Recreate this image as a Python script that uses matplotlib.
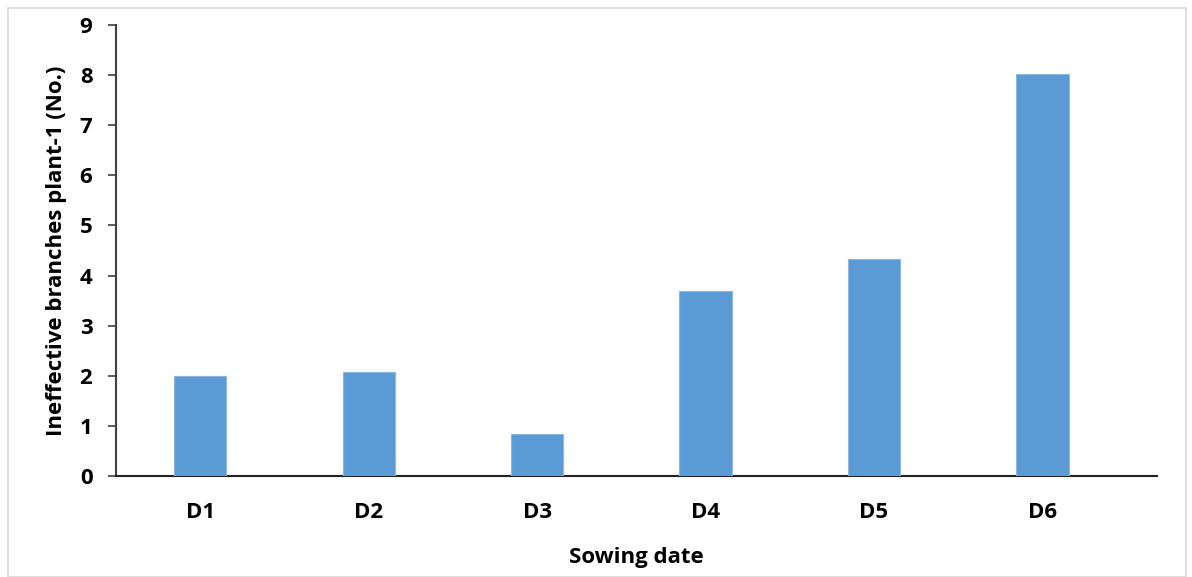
import matplotlib
matplotlib.use("Agg")
import matplotlib.pyplot as plt
from matplotlib.patches import Rectangle

categories = ["D1", "D2", "D3", "D4", "D5", "D6"]
values = [2.0, 2.07, 0.83, 3.69, 4.33, 8.02]
yticks = [0, 1, 2, 3, 4, 5, 6, 7, 8, 9]

plt.rcParams['font.family'] = ['Open Sans', 'DejaVu Sans']

fig = plt.figure(figsize=(11.92, 5.77), dpi=100)
fig.patches.append(Rectangle((8/1192, 0), (1186-8)/1192, 1 - 8/577, transform=fig.transFigure,
                             fill=False, edgecolor='#d9d9d9', linewidth=1.2))
ax = fig.add_axes([116/1192, 1 - 476/577, (1157-116)/1192, (476-25)/577])

x = list(range(len(categories)))
ax.bar(x, values, width=0.31, color='#5B9BD5', edgecolor='#8AB6E0', linewidth=0.8, zorder=3)

ax.set_xlim(-0.5, 5.68)
ax.set_ylim(0, 9)
ax.set_yticks(yticks)
ax.set_yticklabels([str(t) for t in yticks], fontsize=16, fontweight='bold')
ax.set_xticks(x)
ax.set_xticklabels(categories, fontsize=16, fontweight='bold')

for s in ['top', 'right']:
    ax.spines[s].set_visible(False)
ax.spines['left'].set_color('#404040')
ax.spines['left'].set_linewidth(1.5)
ax.spines['bottom'].set_color('#222222')
ax.spines['bottom'].set_linewidth(1.5)
ax.tick_params(axis='y', length=6, width=1.2, color='#404040', pad=11)
ax.tick_params(axis='x', length=0, pad=19)

ax.set_ylabel("Ineffective branches plant-1 (No.)", fontsize=16, fontweight='bold', labelpad=9)
ax.set_xlabel("Sowing date", fontsize=16, fontweight='bold', labelpad=17)

fig.savefig("out.png", dpi=100)
